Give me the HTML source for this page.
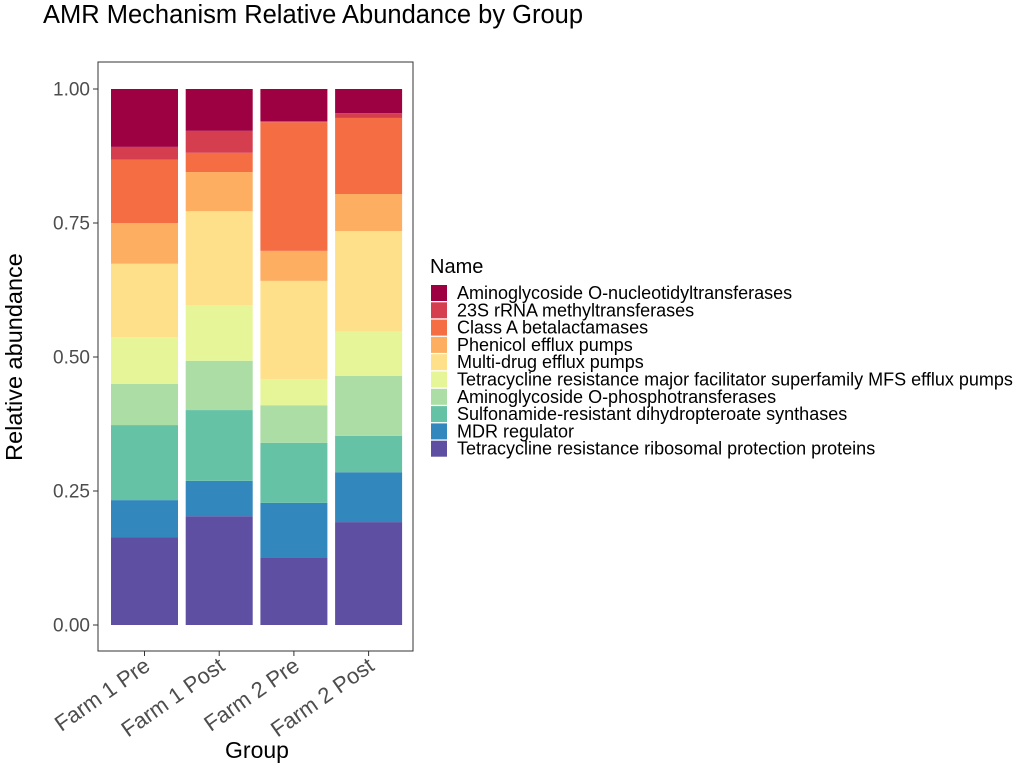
<!DOCTYPE html>
<html><head><meta charset="utf-8"><style>
body{margin:0;background:#fff;font-family:"Liberation Sans",sans-serif;}
</style></head><body>
<svg width="1024" height="768" xmlns="http://www.w3.org/2000/svg" font-family="Liberation Sans, sans-serif">
<text x="43" y="23" font-size="25.5" fill="#000">AMR Mechanism Relative Abundance by Group</text>
<rect x="98" y="62" width="315" height="589" fill="none" stroke="#333" stroke-width="1"/>
<g id="bars"></g><g id="yaxis"></g><g id="xaxis"></g><g id="legend"></g>
<text transform="translate(22,357) rotate(-90)" text-anchor="middle" font-size="23.5" fill="#000">Relative abundance</text>
<text x="257" y="758" text-anchor="middle" font-size="23" fill="#000">Group</text>
</svg>
<script>
const groups=["Farm 1 Pre","Farm 1 Post","Farm 2 Pre","Farm 2 Post"];
const names=["Aminoglycoside O-nucleotidyltransferases","23S rRNA methyltransferases","Class A betalactamases","Phenicol efflux pumps","Multi-drug efflux pumps","Tetracycline resistance major facilitator superfamily MFS efflux pumps","Aminoglycoside O-phosphotransferases","Sulfonamide-resistant dihydropteroate synthases","MDR regulator","Tetracycline resistance ribosomal protection proteins"];
const colors=["#9E0142","#D53E4F","#F46D43","#FDAE61","#FEE08B","#E6F598","#ABDDA4","#66C2A5","#3288BD","#5E4FA2"];
// values per group, bottom-up order (Tet ribosomal ... Aminoglycoside O-nucleotidyl)
const farm1Pre=[0.164,0.069,0.140,0.077,0.087,0.137,0.076,0.118,0.024,0.108];
const farm1Post=[0.203,0.066,0.132,0.092,0.104,0.175,0.073,0.036,0.041,0.078];
const farm2Pre=[0.125,0.103,0.112,0.070,0.049,0.183,0.056,0.240,0.002,0.060];
const farm2Post=[0.192,0.093,0.068,0.112,0.082,0.188,0.069,0.142,0.009,0.045];
const series=[farm1Pre,farm1Post,farm2Pre,farm2Post];
const yTicks=[0,0.25,0.5,0.75,1];
const yLabels=["0.00","0.25","0.50","0.75","1.00"];
const NS="http://www.w3.org/2000/svg";
const y=v=>625-v*536;
const xc=i=>144.5+i*74.7;
const bw=67;
function mk(t,a,p){const e=document.createElementNS(NS,t);for(const k in a)e.setAttribute(k,a[k]);p.appendChild(e);return e;}
const gb=document.getElementById('bars');
series.forEach((s,i)=>{let c=0;const tot=s.reduce((a,b)=>a+b,0);
 s.forEach((v,j)=>{const vv=v/tot;const r=mk('rect',{x:xc(i)-bw/2,y:y(c+vv),width:bw,height:vv*536,fill:colors[9-j]},gb);
 
 
 c+=vv;});});
const gy=document.getElementById('yaxis');
yTicks.forEach((t,i)=>{const l=mk('line',{x1:93,x2:98,y1:y(t),y2:y(t),stroke:'#333'},gy);
 
 
 const tx=mk('text',{x:90,y:y(t)+6.5,'text-anchor':'end','font-size':19,fill:'#4d4d4d'},gy);tx.textContent=yLabels[i];
 
 });
const gx=document.getElementById('xaxis');
groups.forEach((g,i)=>{const l=mk('line',{x1:xc(i),x2:xc(i),y1:651,y2:656,stroke:'#333'},gx);
 
 
 const tx=mk('text',{transform:`translate(${xc(i)+7},${669}) rotate(-35)`,'text-anchor':'end','font-size':22,fill:'#4d4d4d'},gx);tx.textContent=g;
 
 });
const gl=document.getElementById('legend');
const lt=mk('text',{x:430,y:273,'font-size':20,fill:'#000'},gl);lt.textContent="Name";


names.forEach((n,j)=>{const yy=285+j*17.3;
 const r=mk('rect',{x:431,y:yy,width:16,height:16,fill:colors[j]},gl);
 
 
 const t=mk('text',{x:457,y:yy+14,'font-size':18,fill:'#000'},gl);t.textContent=n;
 
 });
</script>
</body></html>
